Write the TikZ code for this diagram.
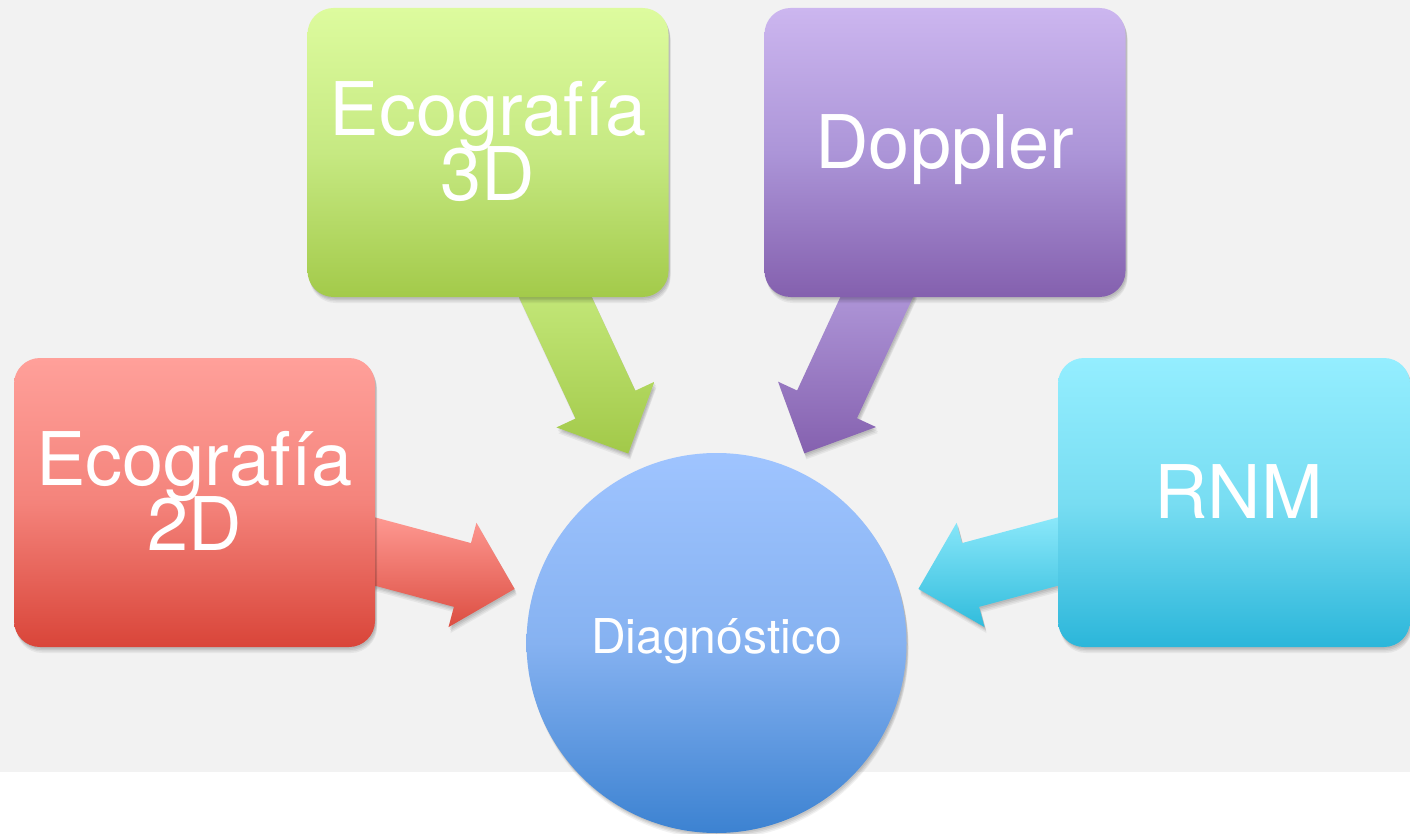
\documentclass[tikz,border=0pt]{standalone}
\usepackage{fontspec}
\setmainfont{TeX Gyre Heros}
\usetikzlibrary{calc,shadows}
\definecolor{bggray}{HTML}{F2F2F2}
\definecolor{redT}{HTML}{FFA09A}\definecolor{redM}{HTML}{F4837B}\definecolor{redB}{HTML}{D94539}
\definecolor{grnT}{HTML}{DDFB9E}\definecolor{grnM}{HTML}{C6E982}\definecolor{grnB}{HTML}{A3CA4A}
\definecolor{purT}{HTML}{CCB6EF}\definecolor{purM}{HTML}{AC95D8}\definecolor{purB}{HTML}{8460AE}
\definecolor{cyaT}{HTML}{94EEFF}\definecolor{cyaM}{HTML}{78DDF2}\definecolor{cyaB}{HTML}{2BB6DA}
\definecolor{bluT}{HTML}{9FC4FF}\definecolor{bluM}{HTML}{86B2F1}\definecolor{bluB}{HTML}{3C82D1}
\definecolor{raT}{HTML}{FF9A93}\definecolor{raB}{HTML}{DC4E42}
\definecolor{gaT}{HTML}{C8EC80}\definecolor{gaB}{HTML}{A2C949}
\definecolor{paT}{HTML}{B59EDE}\definecolor{paB}{HTML}{8561AF}
\definecolor{caT}{HTML}{8DE9FB}\definecolor{caB}{HTML}{30BCDC}
\pgfdeclarelayer{bglayer}
\pgfdeclarelayer{arrlayer}
\pgfsetlayers{bglayer,arrlayer,main}
\newcommand{\boxtexttwo}[2]{\raisebox{-48pt}[0pt][0pt]{\vbox{\baselineskip=65pt\lineskiplimit=-200pt\lineskip=0pt\halign{\hfil##\hfil\cr #1\cr #2\cr}}}}
\newcommand{\boxtextone}[1]{\raisebox{-16pt}[0pt][0pt]{#1}}
\newcommand{\blockarrow}[5]{%
  \coordinate (#1h) at ($(#3)!54pt!(#2)$);
  \path[softshadow, top color=#4, bottom color=#5]
    ($(#2)!33pt!90:(#3)$) -- ($(#1h)!33pt!90:(#3)$) -- ($(#1h)!54pt!90:(#3)$) -- (#3)
    -- ($(#1h)!54pt!-90:(#3)$) -- ($(#1h)!33pt!-90:(#3)$) -- ($(#2)!33pt!-90:(#3)$) -- cycle;
}
\tikzset{
  softshadow/.style={
    general shadow={fill=black, opacity=0.07, shadow xshift=1pt, shadow yshift=-1.5pt},
    general shadow={fill=black, opacity=0.07, shadow xshift=1.5pt, shadow yshift=-3pt},
    general shadow={fill=black, opacity=0.06, shadow xshift=2pt, shadow yshift=-4.5pt},
    general shadow={fill=black, opacity=0.05, shadow xshift=2pt, shadow yshift=-6pt}},
  boxnode/.style={rectangle, rounded corners=26pt, minimum width=361pt, minimum height=289pt,
    inner sep=0pt, text=white, font=\fontsize{74pt}{66pt}\selectfont, softshadow},
  circnode/.style={circle, minimum size=380pt, inner sep=0pt, text=white,
    font=\fontsize{48pt}{56pt}\selectfont, softshadow}
}
\begin{document}
\begin{tikzpicture}[x=1pt,y=-1pt]
\useasboundingbox (0,0) rectangle (1410,834);
\begin{pgfonlayer}{bglayer}
  \fill[white] (0,0) rectangle (1410,834);
  \fill[bggray] (0,0) rectangle (1410,772);
\end{pgfonlayer}

\node[boxnode, top color=redT, bottom color=redB, middle color=redM] (e2d) at (194.5,502.5) {\boxtexttwo{Ecografía}{2D}};
\node[boxnode, top color=grnT, bottom color=grnB, middle color=grnM] (e3d) at (488,152.5) {\boxtexttwo{Ecografía}{3D}};
\node[boxnode, top color=purT, bottom color=purB, middle color=purM] (dop) at (945,152.5) {\boxtextone{Doppler}};
\node[boxnode, minimum width=352pt, top color=cyaT, bottom color=cyaB, middle color=cyaM] (rnm) at (1234,502.5) {\boxtextone{\hspace*{9pt}RNM}};
\node[circnode, top color=bluT, bottom color=bluB, middle color=bluM] (diag) at (716.5,643) {\raisebox{-10pt}[0pt][0pt]{Diagnóstico}};

\coordinate (s2d) at ($(e2d.east)+(-19,44)$);
\coordinate (s3d) at ($(e3d.south)+(59,-18)$);
\coordinate (sdop) at ($(dop.south)+(-60,-18)$);
\coordinate (srnm) at ($(rnm.west)+(19,44)$);
\coordinate (t2d) at ($(diag.center)!209pt!(s2d)$);
\coordinate (t3d) at ($(diag.center)!209pt!(s3d)$);
\coordinate (tdop) at ($(diag.center)!209pt!(sdop)$);
\coordinate (trnm) at ($(diag.center)!209pt!(srnm)$);

\begin{pgfonlayer}{arrlayer}
  \blockarrow{a2d}{s2d}{t2d}{raT}{raB}
  \blockarrow{a3d}{s3d}{t3d}{gaT}{gaB}
  \blockarrow{adop}{sdop}{tdop}{paT}{paB}
  \blockarrow{arnm}{srnm}{trnm}{caT}{caB}
\end{pgfonlayer}
\end{tikzpicture}
\end{document}
